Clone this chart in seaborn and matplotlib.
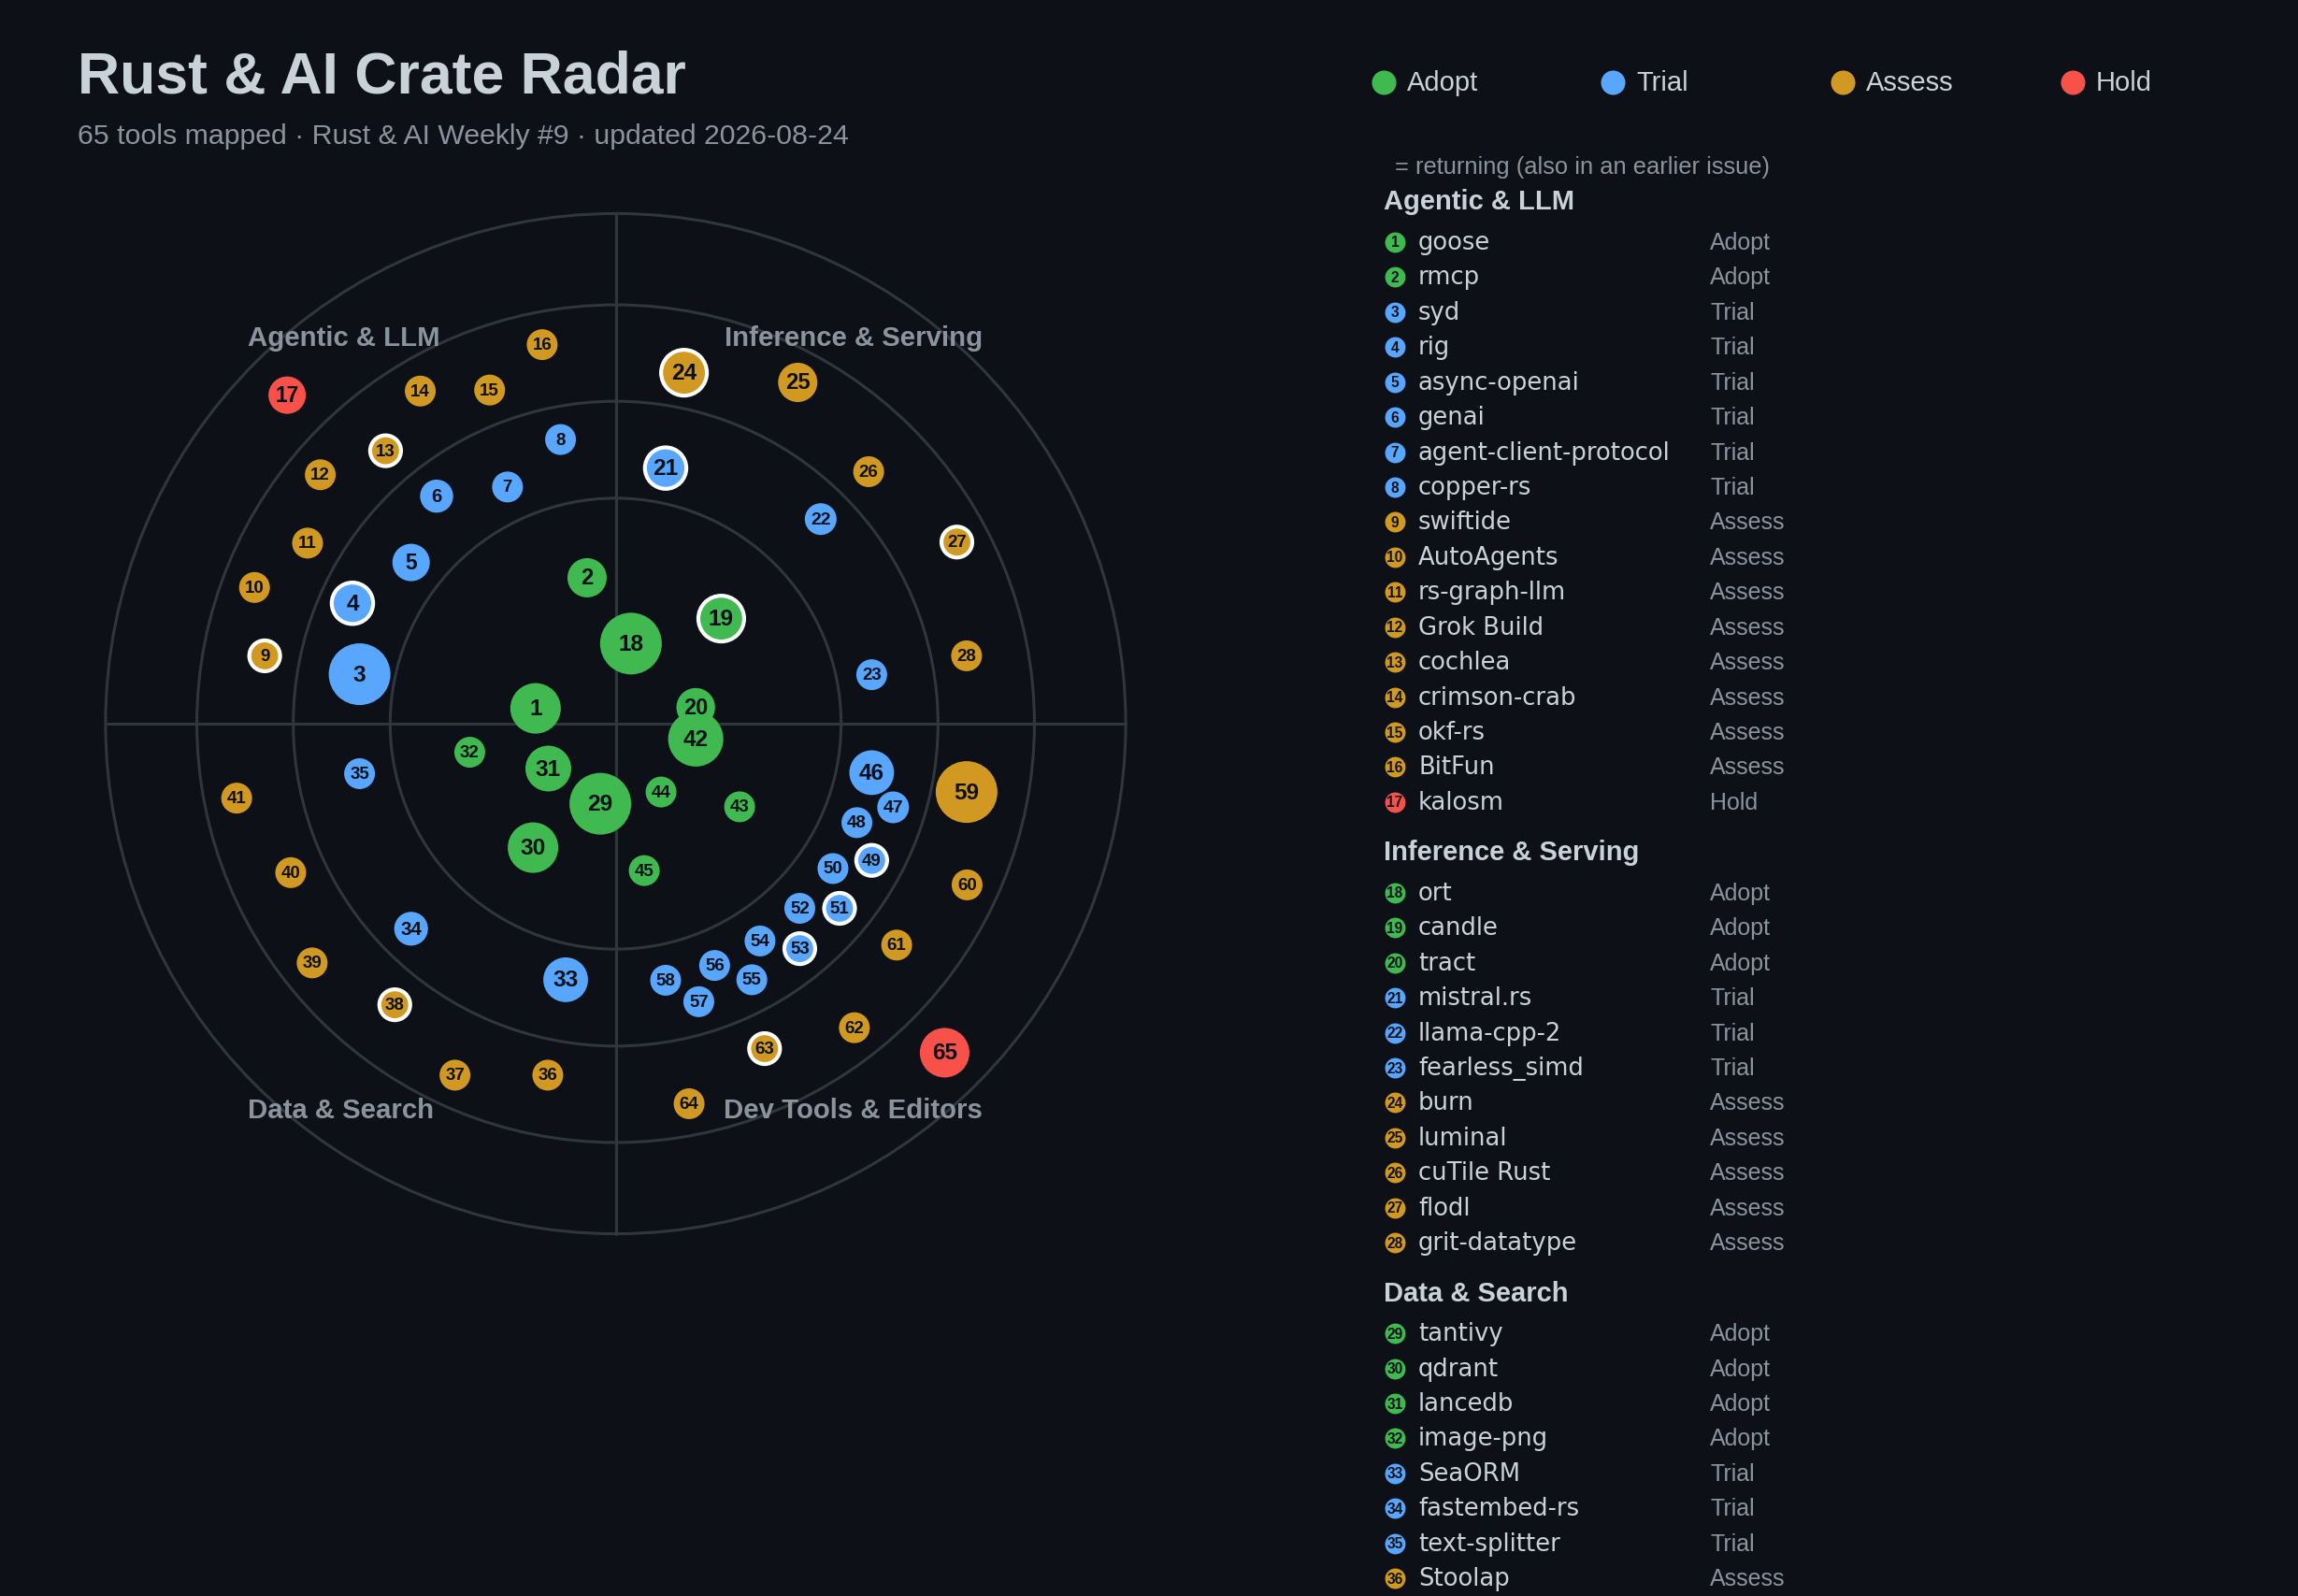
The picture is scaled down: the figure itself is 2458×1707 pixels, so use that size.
import numpy as np
import pandas as pd
import matplotlib
matplotlib.use("Agg")
import matplotlib.pyplot as plt
from matplotlib.patches import Circle
import seaborn as sns

# ---- data ------------------------------------------------------------------
ring_names = ["Adopt", "Trial", "Assess", "Hold"]
ring_colors = ["#3fb950", "#58a6ff", "#d29922", "#f85149"]
ring_radii = [0.442, 0.632, 0.821, 1.0]

quadrants = ["Agentic & LLM", "Inference & Serving", "Data & Search", "Dev Tools & Editors"]

blip_quadrant = [0] * 17 + [1] * 11 + [2] * 13 + [3] * 24
blip_ring = ([0, 0, 1, 1, 1, 1, 1, 1, 2, 2, 2, 2, 2, 2, 2, 2, 3]
             + [0, 0, 0, 1, 1, 1, 2, 2, 2, 2, 2]
             + [0, 0, 0, 0, 1, 1, 1, 2, 2, 2, 2, 2, 2]
             + [0, 0, 0, 0] + [1] * 13 + [2] * 6 + [3])

blip_x = [-0.157, -0.056, -0.502, -0.516, -0.401, -0.351, -0.212, -0.108, -0.688,
          -0.708, -0.604, -0.579, -0.451, -0.383, -0.247, -0.144, -0.644,
          0.030, 0.207, 0.157, 0.098, 0.402, 0.502, 0.134, 0.357, 0.496, 0.669, 0.688,
          -0.030, -0.162, -0.132, -0.286, -0.098, -0.401, -0.502, -0.133, -0.315,
          -0.433, -0.595, -0.637, -0.743,
          0.157, 0.243, 0.089, 0.056, 0.502, 0.544, 0.473, 0.502, 0.426, 0.439,
          0.361, 0.361, 0.283, 0.267, 0.194, 0.163, 0.098, 0.688, 0.689, 0.551,
          0.468, 0.292, 0.144, 0.645]
blip_y = [0.030, 0.286, 0.097, 0.236, 0.316, 0.446, 0.464, 0.557, 0.133,
          0.267, 0.354, 0.488, 0.535, 0.652, 0.654, 0.743, 0.644,
          0.157, 0.206, 0.032, 0.501, 0.401, 0.096, 0.688, 0.669, 0.494, 0.356, 0.133,
          -0.157, -0.243, -0.088, -0.056, -0.502, -0.402, -0.098, -0.689, -0.689,
          -0.551, -0.469, -0.292, -0.146,
          -0.030, -0.163, -0.134, -0.288, -0.096, -0.164, -0.194, -0.268, -0.284, -0.362,
          -0.362, -0.441, -0.426, -0.502, -0.474, -0.545, -0.503, -0.134, -0.316, -0.434,
          -0.596, -0.637, -0.745, -0.645]
blip_weight = [2.68, 1.62, 4.0, 1.8, 1.47, 1.15, 1.0, 1.0, 1.0, 1.0, 1.0, 1.0, 1.0, 1.0, 1.0, 1.0, 1.47,
               4.0, 2.2, 1.57, 1.8, 1.06, 1.0, 2.2, 1.62, 1.0, 1.0, 1.0,
               4.0, 2.68, 2.2, 1.0, 2.1, 1.2, 1.0, 1.0, 1.0, 1.0, 1.0, 1.0, 1.0,
               3.2, 1.0, 1.0, 1.0, 2.1, 1.06, 1.0, 1.0, 1.0, 1.0, 1.0, 1.0, 1.0, 1.0,
               1.0, 1.0, 1.0, 4.0, 1.0, 1.0, 1.0, 1.0, 1.0, 2.58]
returning = [4, 9, 13, 19, 21, 24, 27, 38, 49, 51, 53, 63]

tool_names = ["goose", "rmcp", "syd", "rig", "async-openai", "genai",
              "agent-client-protocol", "copper-rs", "swiftide", "AutoAgents",
              "rs-graph-llm", "Grok Build", "cochlea", "crimson-crab", "okf-rs",
              "BitFun", "kalosm",
              "ort", "candle", "tract", "mistral.rs", "llama-cpp-2", "fearless_simd",
              "burn", "luminal", "cuTile Rust", "flodl", "grit-datatype",
              "tantivy", "qdrant", "lancedb", "image-png", "SeaORM", "fastembed-rs",
              "text-splitter", "Stoolap"]

title = "Rust & AI Crate Radar"
subtitle = "65 tools mapped \u00b7 Rust & AI Weekly #9 \u00b7 updated 2026-08-24"

df = pd.DataFrame({
    "num": np.arange(1, len(blip_x) + 1),
    "x": blip_x,
    "y": blip_y,
    "ring": [ring_names[r] for r in blip_ring],
    "quadrant": [quadrants[q] for q in blip_quadrant],
    "weight": blip_weight,
})
df["returning"] = df["num"].isin(returning)

# ---- style -----------------------------------------------------------------
BG = "#0d1117"
GRID = "#30363d"
TXT = "#c9d1d9"
MUTED = "#8b949e"
sns.set_theme(style="dark")
plt.rcParams["font.family"] = ["Liberation Sans", "DejaVu Sans"]

W, H, DPI = 2458, 1708, 200
fig = plt.figure(figsize=(W / DPI, H / DPI), dpi=DPI, facecolor=BG)

# radar axes: centre at (658.5, 775) px, outer ring radius 545.6 px
R_PX, CX, CY, LIM = 545.6, 658.5, 775.0, 1.15
side = 2 * LIM * R_PX
ax = fig.add_axes([(CX - side / 2) / W, (H - CY - side / 2) / H, side / W, side / H])
ax.set_facecolor("none")

for r in ring_radii:
    ax.add_patch(Circle((0, 0), r, fill=False, ec=GRID, lw=1.1, zorder=1))
ax.plot([-1, 1], [0, 0], color=GRID, lw=1.1, zorder=1)
ax.plot([0, 0], [-1, 1], color=GRID, lw=1.1, zorder=1)

# quadrant labels
qlab = dict(fontsize=10.6, fontweight="bold", color=MUTED, va="center", zorder=5)
ax.text(-0.722, 0.757, quadrants[0], ha="left", **qlab)
ax.text(0.719, 0.757, quadrants[1], ha="right", **qlab)
ax.text(-0.722, -0.757, quadrants[2], ha="left", **qlab)
ax.text(0.719, -0.757, quadrants[3], ha="right", **qlab)

palette = dict(zip(ring_names, ring_colors))
size_rng = (141, 565)  # marker area for weight 1 .. 4
sns.scatterplot(data=df[~df["returning"]], x="x", y="y", hue="ring", palette=palette,
                size="weight", sizes=size_rng, size_norm=(1, 4), linewidth=0,
                legend=False, ax=ax, zorder=3)
sns.scatterplot(data=df[df["returning"]], x="x", y="y", hue="ring", palette=palette,
                size="weight", sizes=size_rng, size_norm=(1, 4), edgecolor="white",
                linewidth=1.5, legend=False, ax=ax, zorder=3)
ax.set_xlim(-LIM, LIM)
ax.set_ylim(-LIM, LIM)
ax.set_aspect("equal")
ax.axis("off")

for _, row in df.iterrows():
    r_px = 16.5 * np.sqrt(row["weight"])
    ax.text(row["x"], row["y"], str(row["num"]), ha="center", va="center",
            fontsize=min(0.41 * r_px, 8.8), fontweight="bold", color=BG, zorder=4)

# ---- overlay in pixel coordinates: title, legend, list ----------------------
ov = fig.add_axes([0, 0, 1, 1])
ov.set_facecolor("none")
ov.set_xlim(0, W)
ov.set_ylim(H, 0)
ov.axis("off")

ov.text(83, 83, title, fontsize=22.5, fontweight="bold", color=TXT, va="center")
ov.text(83, 146, subtitle, fontsize=10.9, color=MUTED, va="center")

# ring legend
for i, (name, col) in enumerate(zip(ring_names, ring_colors)):
    lx = 1479.6 + i * 245.7
    ov.scatter([lx], [89], s=88, color=col, linewidth=0)
    ov.text(lx + 25, 89, name, fontsize=10.5, color=TXT, va="center")

ov.text(1492, 179, "= returning (also in an earlier issue)", fontsize=9.2,
        color=MUTED, va="center")

# tool list grouped by quadrant
y = 216.5
for q, qname in enumerate(quadrants):
    if y > H:
        break
    ov.text(1480, y, qname, fontsize=10.5, fontweight="bold", color=TXT, va="center")
    y += 43.5
    idx = df.index[df["quadrant"] == qname]
    for i in idx:
        if i >= len(tool_names) or y > H + 20:
            continue
        col = palette[df.at[i, "ring"]]
        ov.scatter([1492], [y], s=62, color=col, linewidth=0)
        ov.text(1492, y, str(df.at[i, "num"]), fontsize=5.6, fontweight="bold",
                color=BG, ha="center", va="center")
        ov.text(1517, y, tool_names[i], fontsize=9.3, color=TXT, va="center",
                family=["DejaVu Sans"])
        ov.text(1829, y, df.at[i, "ring"], fontsize=9.0, color=MUTED, va="center")
        y += 37.43
    y += 53.5 - 37.43

fig.savefig("out.png", dpi=DPI, facecolor=BG)
